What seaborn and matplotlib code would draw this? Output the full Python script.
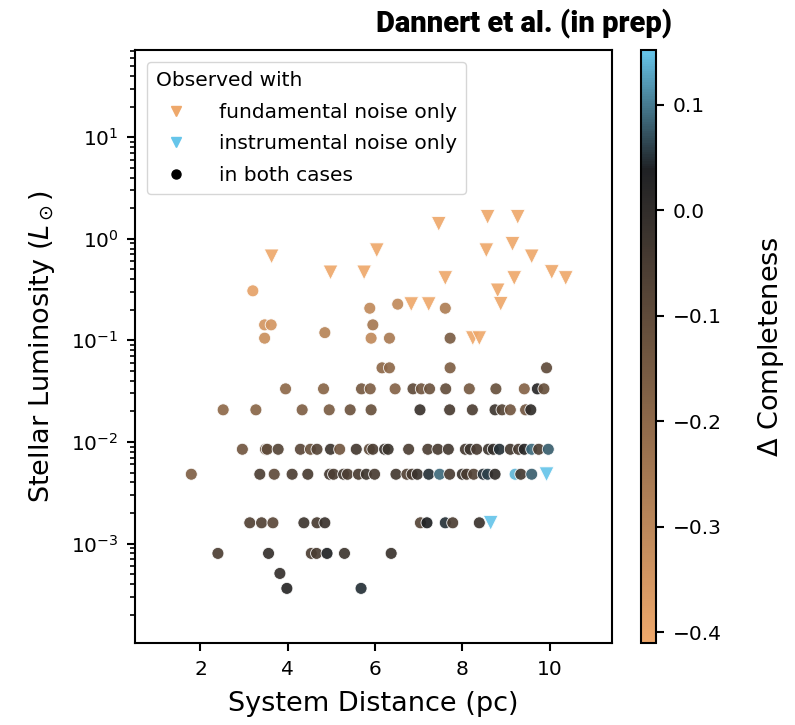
import numpy as np
import pandas as pd
import matplotlib
matplotlib.use("Agg")
import matplotlib.pyplot as plt
from matplotlib.colors import LinearSegmentedColormap, Normalize
from matplotlib.cm import ScalarMappable
from matplotlib.lines import Line2D
import seaborn as sns

# Systems detected with both noise models: distance (pc), luminosity (L_sun), delta completeness
both_dist = [3.20,
             6.52,
             5.88, 7.61,
             3.47, 3.62, 5.95,
             4.85,
             3.47, 5.91, 6.33, 7.72,
             6.16, 6.33, 7.72, 9.93,
             3.95, 4.82, 5.69, 5.89, 6.46, 6.87, 7.06, 7.25, 7.62, 8.16, 8.77, 9.42, 9.72, 9.87,
             2.52, 3.27, 4.33, 4.95, 5.43, 5.91, 7.03, 7.71, 8.23, 8.75, 8.91, 9.10, 9.45, 9.57,
             2.96, 3.49, 3.53, 3.78, 4.29, 4.52, 4.67, 4.98, 5.19, 5.57, 5.87, 5.95, 6.22, 6.30,
             6.77, 7.21, 7.44, 7.68, 8.07, 8.18, 8.33, 8.60, 8.71, 8.85, 9.10, 9.29, 9.42, 9.59,
             9.75, 9.97,
             1.79, 3.36, 3.69, 4.10, 4.46, 4.96, 5.05, 5.28, 5.37, 5.62, 5.80, 5.99, 6.48, 6.73,
             6.85, 6.97, 7.23, 7.48, 7.71, 8.00, 8.10, 8.26, 8.48, 8.58, 8.75, 9.21, 9.34, 9.59,
             3.13, 3.40, 3.66, 4.37, 4.67, 4.85, 7.04, 7.19, 7.61, 7.78, 8.39,
             2.40, 3.56, 4.54, 4.66, 4.90, 5.30, 6.37,
             3.82,
             3.98, 5.68]
both_lum = ([0.307]
            + [0.227]
            + [0.207] * 2
            + [0.142] * 3
            + [0.119]
            + [0.105] * 4
            + [0.0536] * 4
            + [0.0333] * 14
            + [0.0207] * 14
            + [0.00847] * 30
            + [0.00481] * 28
            + [0.0016] * 11
            + [0.0008] * 7
            + [0.000508]
            + [0.000362] * 2)
both_delta = [-0.39,
              -0.31,
              -0.31, -0.27,
              -0.35, -0.35, -0.25,
              -0.29,
              -0.33, -0.31, -0.26, -0.16,
              -0.20, -0.20, -0.17, -0.10,
              -0.20, -0.19, -0.15, -0.17, -0.18, -0.10, -0.14, -0.13, -0.11, -0.15, -0.12, -0.18, 0.02, -0.12,
              -0.20, -0.19, -0.17, -0.16, -0.13, -0.12, -0.02, -0.05, -0.06, -0.03, -0.08, -0.14, -0.14, 0.00,
              -0.14, -0.12, -0.10, -0.08, -0.09, -0.12, -0.08, -0.03, -0.14, -0.04, -0.10, -0.06, -0.02, -0.03,
              -0.06, -0.06, -0.05, -0.04, -0.04, -0.03, -0.05, -0.03, -0.01, 0.05, -0.04, -0.05, 0.02, 0.09,
              -0.06, 0.08,
              -0.17, -0.06, -0.10, -0.06, -0.05, -0.04, -0.06, -0.04, -0.06, -0.05, -0.03, -0.05, -0.04, -0.07,
              -0.05, -0.02, 0.05, 0.09, -0.05, -0.02, -0.05, -0.07, 0.05, 0.06, 0.00, 0.14, -0.04, 0.08,
              -0.07, -0.07, -0.09, -0.03, -0.05, -0.02, -0.08, 0.04, 0.05, -0.06, -0.02,
              -0.06, -0.01, -0.06, -0.05, 0.04, -0.03, -0.02,
              -0.01,
              0.02, 0.05]

# Systems detected only with fundamental noise
fund_dist = [3.63, 4.98, 5.75, 6.04, 7.46, 8.58, 9.27, 8.55, 9.15, 9.59, 10.05, 10.37,
             9.19, 7.61, 8.81, 8.88, 6.83, 7.23, 8.24, 8.39]
fund_lum = [0.67, 0.466, 0.466, 0.77, 1.40, 1.64, 1.64, 0.77, 0.89, 0.67, 0.47, 0.41,
            0.41, 0.41, 0.31, 0.229, 0.227, 0.227, 0.105, 0.105]
fund_delta = [-0.41] * 20

# Systems detected only with instrumental noise
inst_dist = [9.93, 8.65]
inst_lum = [0.00481, 0.0016]
inst_delta = [0.15, 0.15]

cb_ticks = [-0.4, -0.3, -0.2, -0.1, 0.0, 0.1]
vmin, vmax = -0.41, 0.152

both = pd.DataFrame({"dist": both_dist, "lum": both_lum, "delta": both_delta})
fund = pd.DataFrame({"dist": fund_dist, "lum": fund_lum, "delta": fund_delta})
inst = pd.DataFrame({"dist": inst_dist, "lum": inst_lum, "delta": inst_delta})

orange = "#eea86b"
dark = "#1f2124"
blue = "#66c5ea"
cmap = LinearSegmentedColormap.from_list(
    "copper_sky", [(0.0, orange), (0.80, dark), (1.0, blue)])
norm = Normalize(vmin=vmin, vmax=vmax)

plt.rcParams["font.family"] = "DejaVu Sans"
plt.rcParams["axes.linewidth"] = 1.5
plt.rcParams["xtick.major.width"] = 1.5
plt.rcParams["ytick.major.width"] = 1.5
plt.rcParams["ytick.minor.width"] = 1.2
plt.rcParams["xtick.major.size"] = 6
plt.rcParams["ytick.major.size"] = 6
plt.rcParams["ytick.minor.size"] = 3.5
plt.rcParams["xtick.major.pad"] = 6
plt.rcParams["ytick.major.pad"] = 6

fig = plt.figure(figsize=(7.95, 7.25), dpi=100)
ax = fig.add_axes([135 / 795, 1 - 643 / 725, 477 / 795, 593 / 725])
cax = fig.add_axes([641 / 795, 1 - 643 / 725, 15 / 795, 593 / 725])

common = dict(x="dist", y="lum", hue="delta", palette=cmap, hue_norm=norm,
              legend=False, ax=ax, alpha=0.92, edgecolor="white", linewidth=0.6)
sns.scatterplot(data=both, marker="o", s=74, **common)
sns.scatterplot(data=fund, marker="v", s=112, **common)
sns.scatterplot(data=inst, marker="v", s=112, **common)

ax.set_yscale("log")
ax.set_xlim(0.5, 11.43)
ax.set_ylim(1.05e-4, 72)
ax.set_xticks([2, 4, 6, 8, 10])
ax.tick_params(axis="both", labelsize=14.5)
ax.set_xlabel("System Distance (pc)", fontsize=19.5, labelpad=9)
ax.set_ylabel(r"Stellar Luminosity ($L_\odot$)", fontsize=19.5, labelpad=10)

handles = [
    Line2D([], [], ls="none", marker="v", ms=7.5, color=cmap(0.0), label="fundamental noise only"),
    Line2D([], [], ls="none", marker="v", ms=7.5, color=cmap(1.0), label="instrumental noise only"),
    Line2D([], [], ls="none", marker="o", ms=6.5, color="black", label="in both cases"),
]
leg = ax.legend(handles=handles, title="Observed with", loc="upper left",
                fontsize=14.5, title_fontsize=14.5, alignment="left",
                handletextpad=1.1, borderaxespad=0.6, borderpad=0.45,
                labelspacing=0.62)

sm = ScalarMappable(norm=norm, cmap=cmap)
cb = fig.colorbar(sm, cax=cax, ticks=cb_ticks)
cb.outline.set_linewidth(1.5)
cb.ax.tick_params(labelsize=14.5, width=1.5, length=6, pad=6)
cb.set_label(r"$\Delta$ Completeness", fontsize=19.5, labelpad=25)

fig.text(672 / 795, 1 - 8 / 725, "Dannert et al. (in prep)", ha="right", va="top",
         fontsize=21, fontweight=900, family="Roboto")

fig.savefig("out.png", dpi=100)
